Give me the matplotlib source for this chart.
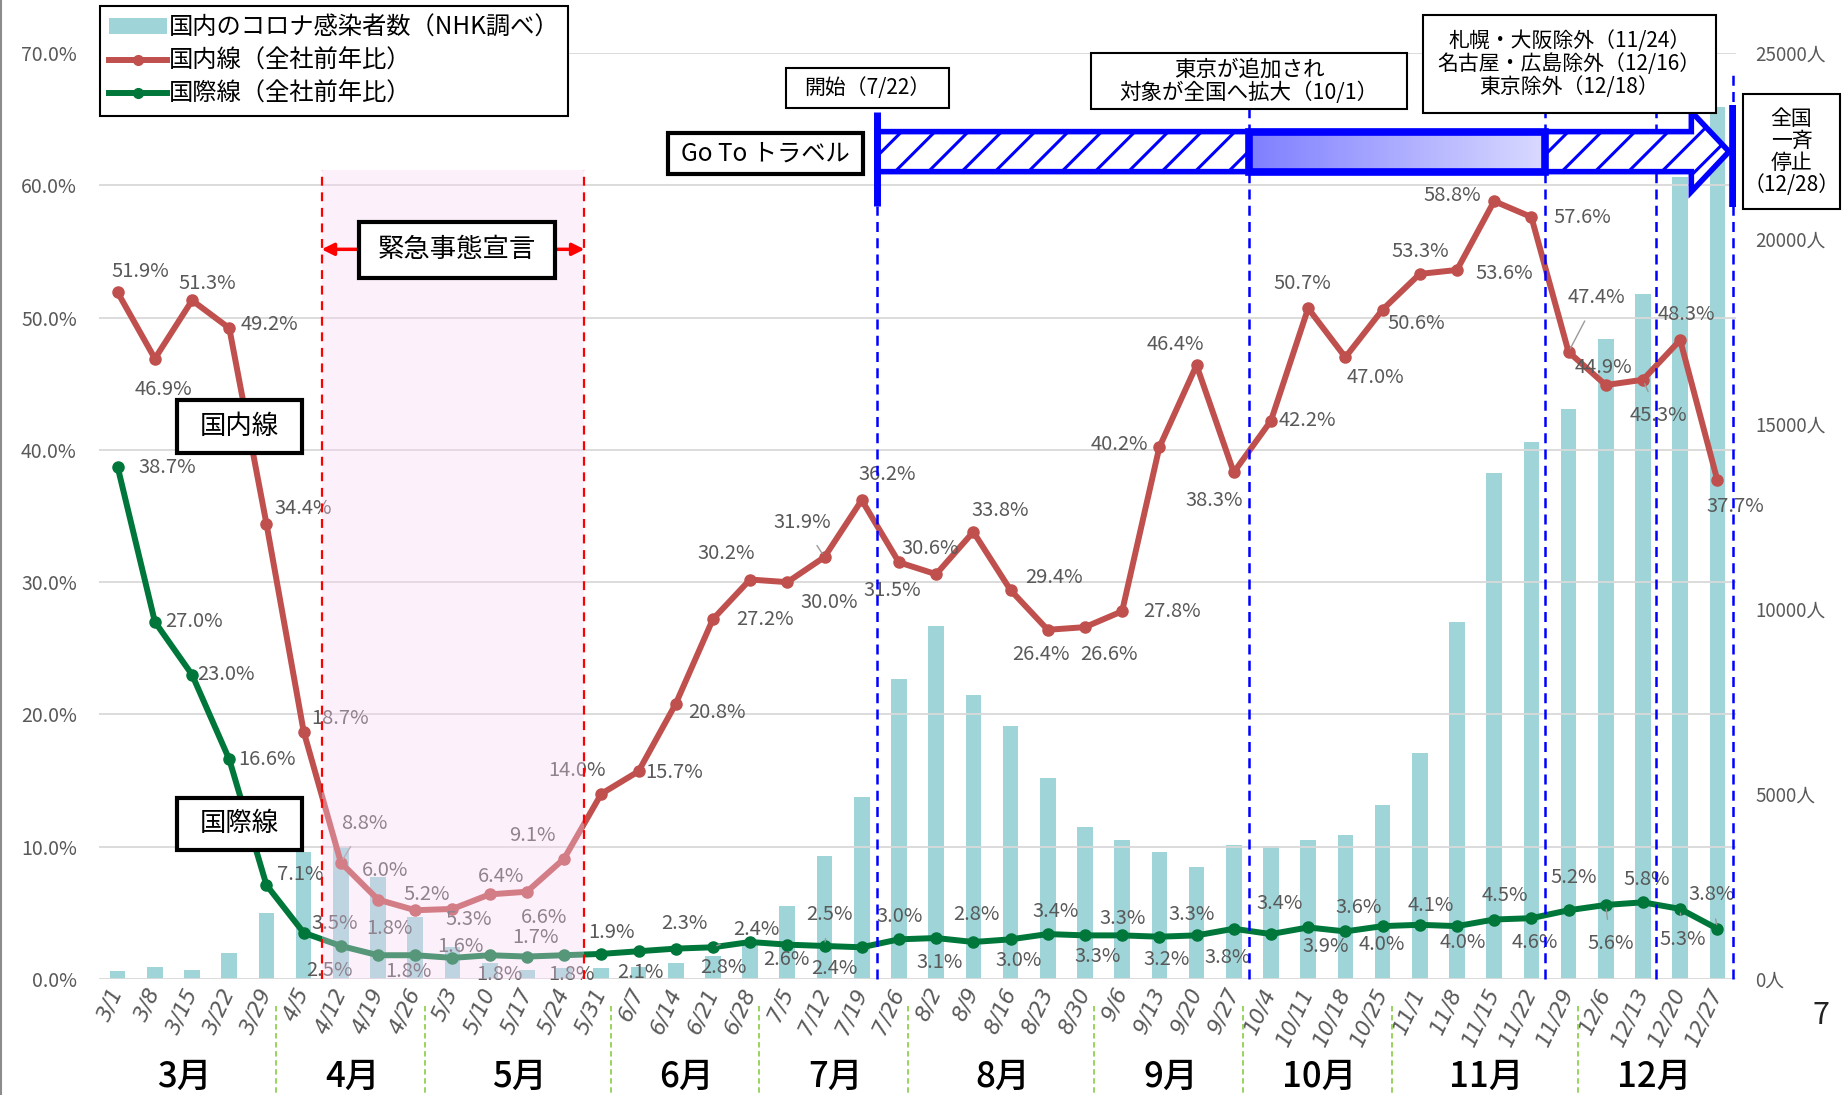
import numpy as np
import matplotlib
matplotlib.use('Agg')
import matplotlib.pyplot as plt
import matplotlib.transforms as mtransforms
from matplotlib.patches import Rectangle, Polygon, Patch
from matplotlib.lines import Line2D

plt.rcParams['font.family'] = ['Noto Sans CJK JP', 'DejaVu Sans']
plt.rcParams['hatch.linewidth'] = 2.2

# ---------------- data ----------------
weeks = ['3/1', '3/8', '3/15', '3/22', '3/29', '4/5', '4/12', '4/19', '4/26',
         '5/3', '5/10', '5/17', '5/24', '5/31', '6/7', '6/14', '6/21', '6/28',
         '7/5', '7/12', '7/19', '7/26', '8/2', '8/9', '8/16', '8/23', '8/30',
         '9/6', '9/13', '9/20', '9/27', '10/4', '10/11', '10/18', '10/25',
         '11/1', '11/8', '11/15', '11/22', '11/29', '12/6', '12/13', '12/20', '12/27']

domestic = [51.9, 46.9, 51.3, 49.2, 34.4, 18.7, 8.8, 6.0, 5.2, 5.3, 6.4, 6.6, 9.1,
            14.0, 15.7, 20.8, 27.2, 30.2, 30.0, 31.9, 36.2, 31.5, 30.6, 33.8, 29.4,
            26.4, 26.6, 27.8, 40.2, 46.4, 38.3, 42.2, 50.7, 47.0, 50.6, 53.3, 53.6,
            58.8, 57.6, 47.4, 44.9, 45.3, 48.3, 37.7]

international = [38.7, 27.0, 23.0, 16.6, 7.1, 3.5, 2.5, 1.8, 1.8, 1.6, 1.8, 1.7, 1.8,
                 1.9, 2.1, 2.3, 2.4, 2.8, 2.6, 2.5, 2.4, 3.0, 3.1, 2.8, 3.0, 3.4, 3.3,
                 3.3, 3.2, 3.3, 3.8, 3.4, 3.9, 3.6, 4.0, 4.1, 4.0, 4.5, 4.6, 5.2, 5.6,
                 5.8, 5.3, 3.8]

cases = [220, 320, 250, 690, 1780, 3430, 3570, 2760, 1680, 870, 420, 240, 290,
         290, 330, 420, 630, 1000, 1960, 3320, 4920, 8100, 9530, 7680, 6830, 5430,
         4100, 3750, 3430, 3020, 3620, 3590, 3750, 3900, 4700, 6100, 9650, 13650,
         14500, 15400, 17270, 18500, 21650, 23550]

legend_labels = ['国内のコロナ感染者数（NHK調べ）', '国内線（全社前年比）', '国際線（全社前年比）']

# label offsets (reference pixels, dx right, dy down)
dom_off = [(19, -18), (7, 26), (13, -14), (34, -3), (31, -13), (31, -11), (20, -33), (6, -25),
           (10, -13), (14, 9), (10, -15), (15, 22), (-27, -20), (-21, -20), (30, 1), (35, 7),
           (44, 0), (-20, -22), (36, 17), (-19, -29), (22, -22), (-6, 24), (-5, -22), (23, -18),
           (37, -11), (-6, 21), (20, 23), (42, 0), (-34, -2), (-18, -18), (-17, 24), (31, 0),
           (-5, -21), (26, 17), (29, 12), (0, -19), (40, 3), (-36, -5), (43, 0), (24, -46),
           (-2, -15), (13, 30), (5, -22), (15, 22)]
dom_leader = {6, 19, 39, 41}
intl_off = [(42, 0), (33, 0), (29, 0), (32, 0), (29, -9), (26, -8), (-10, 21), (10, -23),
            (-6, 14), (7, -10), (8, 16), (7, -16), (6, 16), (9, -18), (2, 18), (7, -21),
            (37, -15), (-23, 22), (-1, 13), (4, -27), (-23, 18), (1, -19), (3, 21), (3, -23),
            (7, 18), (7, -19), (11, 18), (0, -14), (6, 19), (-4, -18), (-5, 24), (7, -26),
            (15, 16), (11, -20), (-1, 16), (9, -16), (5, 14), (9, -20), (3, 21), (4, -28),
            (4, 33), (3, -19), (2, 26), (-5, -29)]
intl_leader = {16, 19, 40, 42, 43}

# ---------------- colors ----------------
BAR_C = '#9fd5d8'
RED_C = '#c0504d'
GREEN_C = '#00773a'
GRAY_T = '#595959'
BLUE = '#0000ff'

K = 0.8472  # reference px -> points

fig = plt.figure(figsize=(18.45, 10.95), dpi=100)
ax = fig.add_axes([0.0537, 0.1059, 0.8872, 0.8457])
ax2 = ax.twinx()
ax.set_zorder(ax2.get_zorder() + 1)
ax.patch.set_visible(False)

x = np.arange(len(weeks))

# bars on secondary axis
ax2.bar(x, cases, width=0.42, color=BAR_C, zorder=1)
ax2.set_ylim(0, 25000)
ax2.set_yticks(np.arange(0, 25001, 5000))
ax2.set_yticklabels([f'{v}人' for v in range(0, 25001, 5000)], fontsize=13.5, color=GRAY_T)
ax2.tick_params(axis='y', length=0, pad=14)

# lines
ax.plot(x, domestic, color=RED_C, lw=4.3, marker='o', ms=8, zorder=5)
ax.plot(x, international, color=GREEN_C, lw=4.3, marker='o', ms=8, zorder=5)

for i, v in enumerate(domestic):
    dxo, dyo = dom_off[i]
    ap = dict(arrowstyle='-', color='#9a9a9a', lw=1.0, shrinkA=8, shrinkB=3) if i in dom_leader else None
    ax.annotate(f'{v:.1f}%', (x[i], v), xytext=(dxo * K, -dyo * K), textcoords='offset points',
                ha='center', va='center', fontsize=14.5, color=GRAY_T, zorder=6, arrowprops=ap)
for i, v in enumerate(international):
    dxo, dyo = intl_off[i]
    ap = dict(arrowstyle='-', color='#9a9a9a', lw=1.0, shrinkA=8, shrinkB=3) if i in intl_leader else None
    ax.annotate(f'{v:.1f}%', (x[i], v), xytext=(dxo * K, -dyo * K), textcoords='offset points',
                ha='center', va='center', fontsize=14.5, color=GRAY_T, zorder=6, arrowprops=ap)

# axes styling
ax.set_ylim(0, 70)
ax.set_yticks(np.arange(0, 71, 10))
ax.set_yticklabels([f'{v:.1f}%' for v in range(0, 71, 10)], fontsize=14, color=GRAY_T)
ax.tick_params(axis='y', length=0, pad=16)
ax.grid(axis='y', color='#d9d9d9', lw=1.3)
ax.set_axisbelow(True)
for a in (ax, ax2):
    for s in a.spines.values():
        s.set_visible(False)

ax.set_xticks(x)
ax.set_xticklabels(weeks)
ax.tick_params(axis='x', length=0, pad=7)
for lab in ax.get_xticklabels():
    lab.set_rotation(65)
    lab.set_ha('right')
    lab.set_va('center')
    lab.set_rotation_mode('anchor')
    lab.set_fontstyle('italic')
    lab.set_family(['DejaVu Sans'])
    lab.set_fontsize(15.5)
    lab.set_color(GRAY_T)

# month labels & separators
month_of = np.array([int(w.split('/')[0]) for w in weeks])
btrans = mtransforms.blended_transform_factory(ax.transData, ax.transAxes)
for j, m in enumerate(sorted(set(month_of))):
    idx = np.where(month_of == m)[0]
    ax.text(idx.mean() - 0.2, -0.106, f'{m}月', transform=btrans, ha='center', va='center',
            fontsize=25, color='black', fontweight='medium')
    if j > 0:
        xs = idx[0] - 0.75
        ax.plot([xs, xs], [-0.029, -0.127], transform=btrans, color='#92d050', lw=1.3,
                dashes=(3, 2), clip_on=False)


# helpers: reference pixel -> data coords (annotation layout)
def px(xd):
    return (xd - 101) / 31.56


def py(yd):
    return (832 - yd) / 11.24


def boxed(x0, y0, x1, y1, text, fs, lw=1.5, z=30, ls=1.15):
    ax.add_patch(Rectangle((px(x0), py(y1)), px(x1) - px(x0), py(y0) - py(y1), fc='white',
                           ec='black', lw=lw, zorder=z, clip_on=False))
    ax.text((px(x0) + px(x1)) / 2, (py(y0) + py(y1)) / 2, text, ha='center', va='center',
            fontsize=fs, zorder=z + 1, clip_on=False, linespacing=ls)


# emergency declaration region
ex0, ex1, etop = px(274), px(497), py(144.5)
ax.add_patch(Rectangle((ex0, 0), ex1 - ex0, etop, fc='#f9d4f4', alpha=0.35, ec='none', zorder=20))
ax.vlines([ex0, ex1], 0, etop, colors='red', linestyles=(0, (4, 3)), lw=1.6, zorder=21)
ay = py(212)
ax.annotate('', xy=(ex0, ay), xytext=(px(306), ay),
            arrowprops=dict(arrowstyle='-|>', color='red', lw=2.5, mutation_scale=18, shrinkA=0, shrinkB=0), zorder=22)
ax.annotate('', xy=(ex1, ay), xytext=(px(472), ay),
            arrowprops=dict(arrowstyle='-|>', color='red', lw=2.5, mutation_scale=18, shrinkA=0, shrinkB=0), zorder=22)
boxed(306, 189, 472, 236, '緊急事態宣言', 19, 3, z=25)

# Go To travel arrow
gx0, g1, g2, gh, gt = px(745), px(1061), px(1312), px(1436), px(1468)
by0, by1 = py(146), py(112)
hy0, hy1 = py(163), py(95)
ym = (by0 + by1) / 2
ax.add_patch(Rectangle((gx0, by0), g1 - gx0, by1 - by0, fc='white', ec=BLUE, hatch='/', lw=0, zorder=8))
grad = np.zeros((1, 50, 3))
grad[0, :, 0] = np.linspace(0.50, 0.85, 50)
grad[0, :, 1] = np.linspace(0.50, 0.85, 50)
grad[0, :, 2] = 1.0
ax.imshow(grad, extent=[g1, g2, by0, by1], aspect='auto', zorder=8, interpolation='bilinear')
ax.add_patch(Polygon([(g2, by0), (gh, by0), (gh, hy0), (gt, ym), (gh, hy1), (gh, by1), (g2, by1)],
                     closed=True, fc='white', ec=BLUE, hatch='/', lw=0, zorder=8))
ax.add_patch(Polygon([(gx0, by0), (gh, by0), (gh, hy0), (gt, ym), (gh, hy1), (gh, by1), (gx0, by1)],
                     closed=True, fill=False, ec=BLUE, lw=4, zorder=9, joinstyle='miter'))
ax.add_patch(Rectangle((g1, by0), g2 - g1, by1 - by0, fill=False, ec=BLUE, lw=5.5, zorder=9))

# blue vertical markers
ax.plot([gx0, gx0], [py(175), py(95)], color=BLUE, lw=5, solid_capstyle='butt', zorder=10)
ax.plot([px(1471), px(1471)], [py(176), py(89)], color=BLUE, lw=5.5, solid_capstyle='butt', zorder=10)
for xd, ytop in [(745, 175), (1061, 93), (1312, 96), (1406, 96), (1471, 59)]:
    ax.plot([px(xd), px(xd)], [0, py(ytop)], color=BLUE, lw=1.8, dashes=(4, 2.5), zorder=7, clip_on=False)

# boxes
boxed(568, 113, 733, 148, 'Go To トラベル', 17.5, 3)
boxed(668, 58, 806, 92, '開始（7/22）', 15)
boxed(927, 45, 1195, 93, '東京が追加され\n対象が全国へ拡大（10/1）', 15.5, 1.5, ls=1.05)
boxed(1208, 13, 1457, 96, '札幌・大阪除外（11/24）\n名古屋・広島除外（12/16）\n東京除外（12/18）', 15, 1.5, ls=1.05)
boxed(1480, 80, 1562, 178, '全国\n一斉\n停止\n（12/28）', 15, 1.5, ls=1.0)
boxed(151, 340, 257, 385, '国内線', 19, 3)
boxed(151, 678, 257, 722, '国際線', 19, 3)

# legend
handles = [Patch(facecolor=BAR_C, edgecolor='none'),
           Line2D([], [], color=RED_C, lw=4.3, marker='o', ms=7),
           Line2D([], [], color=GREEN_C, lw=4.3, marker='o', ms=7)]
leg = ax.legend(handles, legend_labels, loc='upper left', bbox_to_anchor=(0.0542, 0.9945),
                bbox_transform=fig.transFigure, fontsize=17.5, frameon=True, fancybox=False,
                edgecolor='black', framealpha=1, handlelength=2.4, handleheight=0.6,
                handletextpad=0.1, labelspacing=0.3, borderpad=0.35, borderaxespad=0)
leg.get_frame().set_linewidth(1.5)
leg.set_zorder(40)

ax.set_xlim(-0.5, len(weeks) - 0.5)
ax.set_ylim(0, 70)

# page number and slide border
fig.text(1821 / 1845, 1 - 1015 / 1095, '7', fontsize=22, ha='center', va='center', color='#222222')
fig.add_artist(Line2D([0.0008, 0.0008], [0, 1], color='#8c8c8c', lw=1.5, transform=fig.transFigure))

fig.savefig('out.png', dpi=100)
